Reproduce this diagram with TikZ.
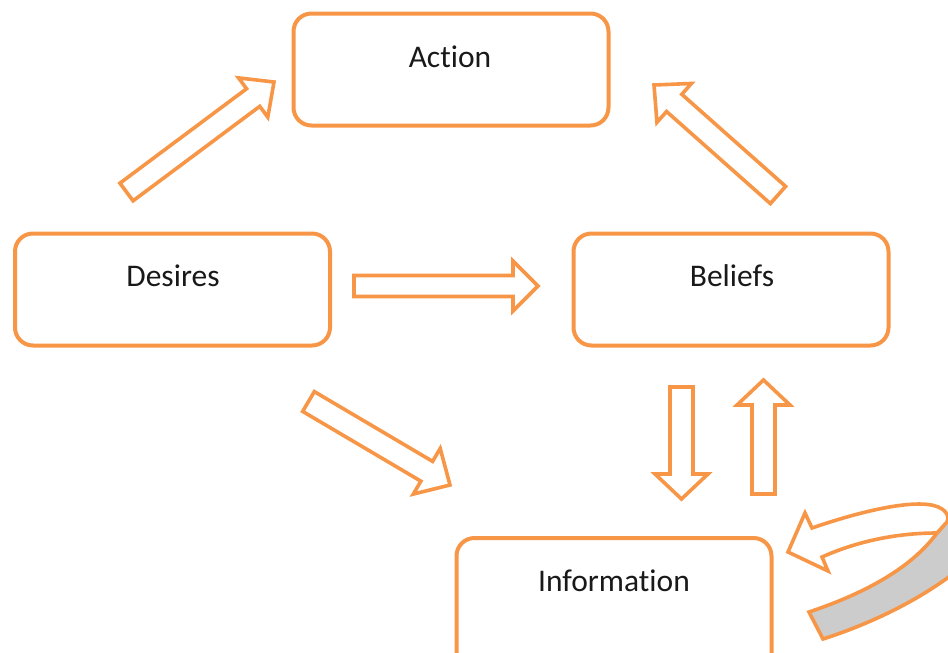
\documentclass[tikz,border=0pt]{standalone}
\usepackage{fontspec}
\setmainfont{Carlito}[Ligatures=NoCommon]
\usetikzlibrary{calc}
\definecolor{orng}{HTML}{F79646}
\definecolor{gry}{HTML}{CCCCCC}
\tikzset{
  box/.style={draw=orng, line width=4pt, rounded corners=18pt, fill=white,
              minimum width=315pt, minimum height=112pt, inner sep=0pt},
  lab/.style={font=\fontsize{31.5}{36}\selectfont, text=black!90, anchor=base, inner sep=0pt},
  barrow/.style={draw=orng, line width=3.6pt, fill=white, line join=miter},
  curv/.style={draw=orng, line width=3.6pt, line join=miter},
}
\newcommand\blockarrow[6]{%
  \coordinate (#1-t) at #2;
  \coordinate (#1-p) at #3;
  \coordinate (#1-h) at ($(#1-p)!#6!(#1-t)$);
  \draw[barrow] ($(#1-t)!#4!90:(#1-p)$) -- ($(#1-h)!#4!90:(#1-p)$)
     -- ($(#1-h)!#5!90:(#1-p)$) -- (#1-p) -- ($(#1-h)!#5!-90:(#1-p)$)
     -- ($(#1-h)!#4!-90:(#1-p)$) -- ($(#1-t)!#4!-90:(#1-p)$) -- cycle;}
\begin{document}
\begin{tikzpicture}[x=1pt,y=-1pt]
\useasboundingbox (0,0) rectangle (948,653);
\clip (0,0) rectangle (948,653);
% boxes
\node[box] (action) at (451,69.5) {};
\node[box] (desires) at (172.5,289.5) {};
\node[box] (beliefs) at (731,289.5) {};
\node[box, minimum height=140pt] (information) at (614,608) {};
% labels
\node[lab] (actiontext) at (450,67) {Action};
\node[lab] (desirestext) at (173,286.5) {Desires};
\node[lab] (beliefstext) at (732,286.5) {Beliefs};
\node[lab] (informationtext) at (614,591.5) {Information};
% block arrows
\blockarrow{a1}{(126.5,192)}{(274,82)}{11pt}{24.5pt}{26pt}
\blockarrow{a2}{(778,195)}{(654,85)}{11.5pt}{26pt}{27pt}
\blockarrow{a3}{(354,286)}{(538,286)}{10.5pt}{25pt}{25pt}
\blockarrow{a4}{(308.5,401.5)}{(450,485)}{11.5pt}{26.5pt}{27pt}
\blockarrow{a5}{(681.5,387)}{(681.5,499)}{11.5pt}{26.5pt}{25pt}
\blockarrow{a6}{(763.5,494)}{(763.5,380)}{11.5pt}{26.5pt}{25pt}
% curved 3D arrow
\coordinate (ctip) at (788,552);
\draw[curv, fill=gry] (948,520) -- (937,533) .. controls (910,570) and (860,595) .. (809,612)
   -- (823,639) .. controls (870,624) and (920,600) .. (958,570) -- (958,520) -- cycle;
\draw[curv, fill=white] (ctip) -- (805,513) -- (812,528)
   .. controls (870,508) and (925,497) .. (942,509)
   .. controls (948,513) and (949,518) .. (947,522)
   -- (937,533) .. controls (900,533) and (860,540) .. (822,557)
   -- (828,571) -- cycle;
\end{tikzpicture}
\end{document}
